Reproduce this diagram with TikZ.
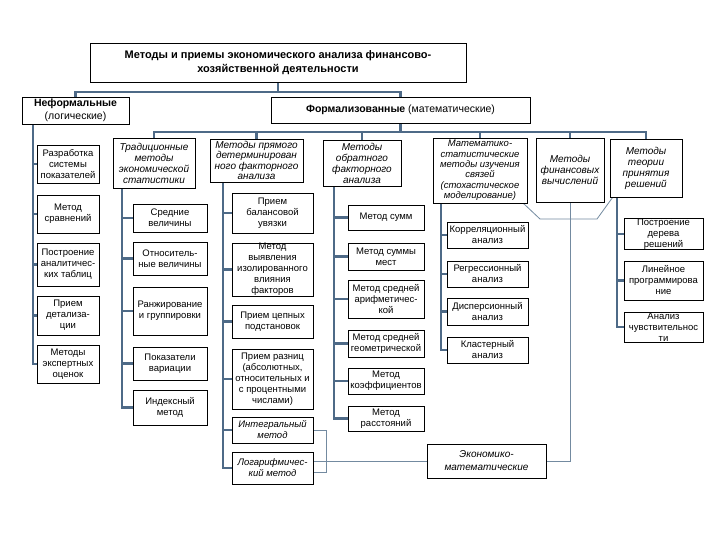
\documentclass[tikz,border=0pt]{standalone}
\usepackage{fontspec}
\setmainfont{Liberation Sans}
\usetikzlibrary{backgrounds}
\definecolor{conc}{RGB}{78,106,135}
\definecolor{thinc}{RGB}{115,138,160}
\tikzset{
 box/.style={draw=black, line width=0.7pt, fill=white, inner sep=0pt, align=center, font=\fontsize{9.5}{11}\selectfont},
 ibox/.style={font=\fontsize{10}{11}\selectfont\itshape},
 conn/.style={draw=conc, line width=2.4pt, line cap=rect},
 tconn/.style={draw=thinc, line width=0.8pt},
}
\newcommand\bx[7]{%
 \pgfmathsetmacro\bw{#4-#2}\pgfmathsetmacro\bh{#5-#3}%
 \pgfmathsetmacro\bcx{(#2+#4)/2}\pgfmathsetmacro\bcy{(#3+#5)/2}%
 \node[box,#7,minimum width=\bw pt,minimum height=\bh pt] (#1) at (\bcx,\bcy) {#6};}
\begin{document}
\begin{tikzpicture}[x=1pt,y=-1pt]
\useasboundingbox (0,0) rectangle (720,540);
% level 0 and 1
\bx{top}{90}{43}{466}{82}{Методы и приемы экономического анализа финансово-\\хозяйственной деятельности}{font=\fontsize{11}{14}\selectfont\bfseries}
\bx{nf}{22}{97}{129}{124}{\textbf{Неформальные}\\(логические)}{font=\fontsize{10.5}{12.5}\selectfont}
\bx{fm}{271}{97}{530}{123}{\textbf{Формализованные} (математические)}{font=\fontsize{10.5}{12.5}\selectfont}
% level 2
\bx{trad}{113}{138}{195}{188}{Традиционные\\методы\\экономической\\статистики}{ibox}
\bx{dir}{210}{139}{303}{182}{Методы прямого\\детерминирован\\ного факторного\\анализа}{ibox,font=\fontsize{10}{10.6}\selectfont\itshape}
\bx{rev}{323}{140}{401}{186}{Методы\\обратного\\факторного\\анализа}{ibox}
\bx{ms}{433}{138}{527}{203}{Математико-\\статистические\\методы изучения\\связей\\(стохастическое\\моделирование)}{ibox,font=\fontsize{9.5}{10.4}\selectfont\itshape}
\bx{fin}{536}{138}{604}{202}{Методы\\финансовых\\вычислений}{ibox}
\bx{th}{610}{139}{682}{197}{Методы\\теории\\принятия\\решений}{ibox}
% informal children
\bx{a1}{37}{145}{99}{183}{Разработка\\системы\\показателей}{}
\bx{a2}{37}{195}{99}{233}{Метод\\сравнений}{}
\bx{a3}{37}{243}{99}{286}{Построение\\аналитичес-\\ких таблиц}{}
\bx{a4}{37}{296}{99}{335}{Прием\\детализа-\\ции}{}
\bx{a5}{37}{345}{99}{383}{Методы\\экспертных\\оценок}{}
% traditional children
\bx{b1}{133}{204}{207}{232}{Средние\\величины}{}
\bx{b2}{133}{242}{207}{275}{Относитель-\\ные величины}{}
\bx{b3}{133}{287}{207}{335}{Ранжирование\\и группировки}{}
\bx{b4}{133}{347}{207}{380}{Показатели\\вариации}{}
\bx{b5}{133}{390}{207}{425}{Индексный\\метод}{}
% direct children
\bx{c1}{232}{193}{313}{233}{Прием\\балансовой\\увязки}{}
\bx{c2}{232}{243}{313}{296}{Метод\\выявления\\изолированного\\влияния\\факторов}{}
\bx{c3}{232}{305}{313}{338}{Прием цепных\\подстановок}{}
\bx{c4}{232}{349}{313}{409}{Прием разниц\\(абсолютных,\\относительных и\\с процентными\\числами)}{}
\bx{c5}{232}{417}{313}{443}{Интегральный\\метод}{ibox,font=\fontsize{9.5}{11}\selectfont\itshape}
\bx{c6}{232}{452}{313}{484}{Логарифмичес-\\кий метод}{ibox,font=\fontsize{9.5}{11}\selectfont\itshape}
% reverse children
\bx{d1}{348}{205}{424}{230}{Метод сумм}{}
\bx{d2}{348}{243}{424}{270}{Метод суммы\\мест}{}
\bx{d3}{348}{280}{424}{318}{Метод средней\\арифметичес-\\кой}{}
\bx{d4}{348}{330}{424}{357}{Метод средней\\геометрической}{}
\bx{d5}{348}{368}{424}{394}{Метод\\коэффициентов}{}
\bx{d6}{348}{406}{424}{431}{Метод\\расстояний}{}
% math-stat children
\bx{e1}{447}{222}{528}{248}{Корреляционный\\анализ}{}
\bx{e2}{447}{261}{528}{287}{Регрессионный\\анализ}{}
\bx{e3}{447}{298}{528}{325}{Дисперсионный\\анализ}{}
\bx{e4}{447}{337}{528}{363}{Кластерный\\анализ}{}
% theory children
\bx{f1}{624}{219}{703}{249}{Построение\\дерева\\решений}{}
\bx{f2}{624}{261}{703}{300}{Линейное\\программирова\\ние}{}
\bx{f3}{624}{312}{703}{342}{Анализ\\чувствительнос\\ти}{}
% economic-mathematical
\bx{em}{427}{444}{546}{478}{Экономико-\\математические}{font=\fontsize{10}{13}\selectfont\itshape}
% coordinates
\coordinate (h1) at (0,92);
\coordinate (h2) at (0,132);
\coordinate (sa) at (33,0);
\coordinate (sb) at (122,0);
\coordinate (sc) at (223,0);
\coordinate (sd) at (334,0);
\coordinate (se) at (441,0);
\coordinate (sf) at (617,0);
\coordinate (j1) at (540,219);
\coordinate (j2) at (597,219);
\coordinate (br) at (326,472);
\begin{scope}[on background layer]
\fill[white] (0,0) rectangle (720,540);
% top tree
\draw[conn] (top.south) -- (top.south |- h1);
\draw[conn] (nf.north) |- (fm.north |- h1) -- (fm.north);
\draw[conn] (fm.south) -- (fm.south |- h2);
\draw[conn] (trad.north |- h2) -- (th.north |- h2);
\foreach \n in {trad,dir,rev,ms,fin,th} \draw[conn] (\n.north |- h2) -- (\n.north);
% spines
\draw[conn] (nf.south -| sa) -- (a5.west -| sa);
\foreach \n in {a1,a2,a3,a4,a5} \draw[conn] (\n.west -| sa) -- (\n.west);
\draw[conn] (trad.south -| sb) -- (b5.west -| sb);
\foreach \n in {b1,b2,b3,b4,b5} \draw[conn] (\n.west -| sb) -- (\n.west);
\draw[conn] (dir.south -| sc) -- (c6.west -| sc);
\foreach \n in {c1,c2,c3,c4,c5,c6} \draw[conn] (\n.west -| sc) -- (\n.west);
\draw[conn] (rev.south -| sd) -- (d6.west -| sd);
\foreach \n in {d1,d2,d3,d4,d5,d6} \draw[conn] (\n.west -| sd) -- (\n.west);
\draw[conn] (ms.south -| se) -- (e4.west -| se);
\foreach \n in {e1,e2,e3,e4} \draw[conn] (\n.west -| se) -- (\n.west);
\draw[conn] (th.south -| sf) -- (f3.west -| sf);
\foreach \n in {f1,f2,f3} \draw[conn] (\n.west -| sf) -- (\n.west);
% thin links
\draw[tconn] ([xshift=-4pt]ms.south east) -- (j1) -- (j2) -- ([xshift=3pt]th.south west);
\draw[tconn] (fin.south) |- (em.east);
\draw[tconn] (c5.east) -| (br) -- (c6.east |- br);
\draw[tconn] (c6.east |- em.west) -- (em.west);
\end{scope}
\end{tikzpicture}
\end{document}
